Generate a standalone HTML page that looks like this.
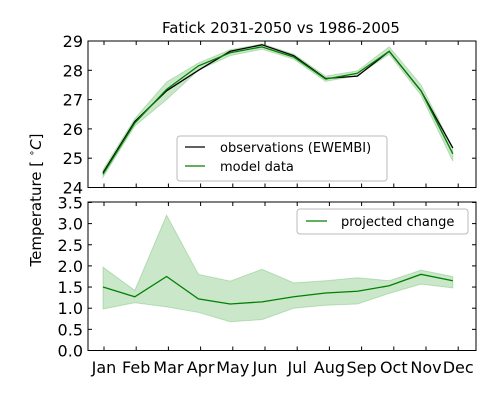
<!DOCTYPE html>
<html><head><meta charset="utf-8"><style>
body{margin:0;background:#fff;width:500px;height:400px;overflow:hidden}
svg text{font-family:"DejaVu Sans","Liberation Sans",sans-serif;fill:#000}
</style></head><body>
<svg id="c" width="500" height="400" xmlns="http://www.w3.org/2000/svg"></svg>
<script>
const months=["Jan","Feb","Mar","Apr","May","Jun","Jul","Aug","Sep","Oct","Nov","Dec"];
const obs=[24.5,26.25,27.3,28.0,28.65,28.87,28.5,27.72,27.8,28.65,27.3,25.35];
const model=[24.45,26.2,27.35,28.15,28.6,28.8,28.45,27.7,27.9,28.65,27.3,25.15];
const modelLo=[24.35,26.1,27.0,28.0,28.5,28.72,28.38,27.62,27.82,28.55,27.15,24.9];
const modelHi=[24.6,26.35,27.6,28.25,28.7,28.9,28.55,27.8,27.98,28.8,27.5,25.35];
const change=[1.5,1.27,1.75,1.22,1.1,1.15,1.27,1.36,1.4,1.53,1.8,1.65];
const changeHi=[1.97,1.42,3.2,1.8,1.64,1.92,1.6,1.65,1.72,1.65,1.9,1.75];
const changeLo=[0.98,1.13,1.03,0.9,0.68,0.73,1.0,1.07,1.1,1.35,1.57,1.48];
const topTicks=[24,25,26,27,28,29];
const botTicks=["0.0","0.5","1.0","1.5","2.0","2.5","3.0","3.5"];
const NS="http://www.w3.org/2000/svg";const svg=document.getElementById('c');
function el(t,a,p){const e=document.createElementNS(NS,t);for(const k in a)e.setAttribute(k,a[k]);(p||svg).appendChild(e);return e;}
const L=88,R=476;
const xd=i=>103+i*31.8;   // data x
const xt=i=>104+i*32.2;   // tick x
const yT=v=>187.5-(v-24)*29.3;
const yB=v=>350.5-v*42.3;
function pts(arr,y){return arr.map((v,i)=>xd(i)+","+y(v)).join(" ");}
function band(lo,hi,y){return pts(hi,y)+" "+lo.map((v,i)=>[xd(i),y(v)]).reverse().map(p=>p.join(",")).join(" ");}
let t=el('text',{x:281,y:33,'font-size':15,'text-anchor':'middle'});t.textContent="Fatick 2031-2050 vs 1986-2005";

t=el('text',{x:41,y:200,'font-size':15,'text-anchor':'middle',transform:'rotate(-90 41 200)'});
t.innerHTML='Temperature [ <tspan font-size="10" dy="-6">∘</tspan><tspan font-style="italic" dy="6">C</tspan>]';

let b=el('polygon',{points:band(modelLo,modelHi,yT),fill:'#2ca02c','fill-opacity':0.25,stroke:'#2ca02c','stroke-opacity':0.25});

let l=el('polyline',{points:pts(obs,yT),fill:'none',stroke:'#000','stroke-width':1.3});

l=el('polyline',{points:pts(model,yT),fill:'none',stroke:'#008000','stroke-width':1.3});

let f=el('rect',{x:L,y:41,width:R-L,height:146.5,fill:'none',stroke:'#000','stroke-width':1});

topTicks.forEach(v=>{const y=yT(v);
 el('line',{x1:L,x2:L+4,y1:y,y2:y,stroke:'#000'});el('line',{x1:R,x2:R-4,y1:y,y2:y,stroke:'#000'});
 const tx=el('text',{x:L-5,y:y+6,'font-size':16,'text-anchor':'end'});tx.textContent=v;
 });
months.forEach((m,i)=>{el('line',{x1:xt(i),x2:xt(i),y1:41,y2:45,stroke:'#000'});el('line',{x1:xt(i),x2:xt(i),y1:187.5,y2:183.5,stroke:'#000'});});
let g=el('g',{});
el('rect',{x:177,y:136,width:210,height:45,rx:3,fill:'#fff',stroke:'#bbb'},g);
el('line',{x1:185,x2:205,y1:147,y2:147,stroke:'#000','stroke-width':1.3},g);
el('line',{x1:185,x2:205,y1:166,y2:166,stroke:'#008000','stroke-width':1.3},g);
t=el('text',{x:220,y:152,'font-size':13},g);t.textContent="observations (EWEMBI)";

t=el('text',{x:220,y:171,'font-size':13},g);t.textContent="model data";

b=el('polygon',{points:band(changeLo,changeHi,yB),fill:'#2ca02c','fill-opacity':0.25,stroke:'#2ca02c','stroke-opacity':0.25});

l=el('polyline',{points:pts(change,yB),fill:'none',stroke:'#008000','stroke-width':1.3});

f=el('rect',{x:L,y:202,width:R-L,height:148.5,fill:'none',stroke:'#000','stroke-width':1});

botTicks.forEach(v=>{const y=yB(+v);
 el('line',{x1:L,x2:L+4,y1:y,y2:y,stroke:'#000'});el('line',{x1:R,x2:R-4,y1:y,y2:y,stroke:'#000'});
 const tx=el('text',{x:L-5,y:y+6,'font-size':16,'text-anchor':'end'});tx.textContent=v;
 });
months.forEach((m,i)=>{el('line',{x1:xt(i),x2:xt(i),y1:202,y2:206,stroke:'#000'});el('line',{x1:xt(i),x2:xt(i),y1:350.5,y2:346.5,stroke:'#000'});
 const tx=el('text',{x:xt(i),y:373,'font-size':16,'text-anchor':'middle'});tx.textContent=m;
 });
g=el('g',{});
el('rect',{x:297,y:209,width:171,height:25,rx:3,fill:'#fff',stroke:'#bbb'},g);
el('line',{x1:306,x2:327,y1:221,y2:221,stroke:'#008000','stroke-width':1.3},g);
t=el('text',{x:341,y:226,'font-size':13},g);t.textContent="projected change";

</script>
</body></html>
